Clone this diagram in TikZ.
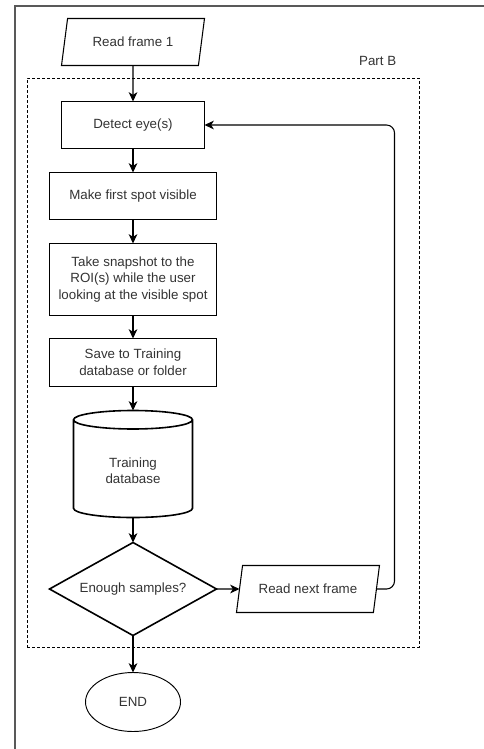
\documentclass[tikz,border=0pt]{standalone}
\usepackage{fontspec}
\setmainfont{Liberation Sans}
\usetikzlibrary{arrows.meta,positioning,shapes.geometric,calc}

\begin{document}
\begin{tikzpicture}[
  txt/.style={font=\fontsize{10}{12.5}\selectfont, text=black!80},
  box/.style={draw, txt, minimum width=125.25pt, minimum height=35.25pt, align=center, inner sep=1pt, outer sep=0pt, line width=0.8pt},
  io/.style={draw, txt, trapezium, trapezium left angle=64, trapezium right angle=116, trapezium stretches body, minimum width=107.25pt, minimum height=35.25pt, inner sep=1pt, outer sep=0pt, line width=0.8pt},
  store/.style={draw, txt, cylinder, shape border rotate=90, aspect=0.29, minimum width=89.25pt, minimum height=80.25pt, align=center, outer sep=0pt, line width=1.2pt},
  decide/.style={draw, txt, diamond, aspect=1.8, minimum width=125.25pt, minimum height=69.75pt, inner sep=0pt, outer sep=0pt, line width=1.2pt},
  term/.style={draw, txt, ellipse, minimum width=71.25pt, minimum height=44.25pt, outer sep=0pt, line width=0.7pt},
  partbox/.style={draw, dash pattern=on 2.25pt off 1.5pt, line width=0.7pt},
  arrow/.style={-{Stealth[length=7pt, width=6.5pt, inset=2pt]}, line width=0.8pt}
]
\clip (0,0) rectangle (363pt,-561.75pt);
% outer frame, only its left and top edges are in the picture
\draw[black!65, line width=0.9pt] (11.25pt,-570pt) |- (370pt,-4.5pt);

\node[partbox, minimum width=294pt, minimum height=426.75pt] (partB) at (167.25pt,-271.875pt) {};
\node[txt, inner sep=0pt, anchor=base east] (partBlbl) at ($(partB.north east)+(-17.25pt,9pt)$) {Part B};

\node[io] (rf1) at (99.75pt,-31.5pt) {Read frame 1};
\node[box, minimum width=107.25pt, below=27pt of rf1] (det) {Detect eye(s)};
\node[box, below=18pt of det] (make) {Make first spot visible};
\node[box, minimum height=54pt, below=18pt of make] (snap) {Take snapshot to the\\ROI(s) while the user\\looking at the visible spot};
\node[box, minimum height=36pt, below=17.25pt of snap] (save) {Save to Training\\database or folder};
\node[store, below=18pt of save] (db) {Training\\database};
\node[decide, below=18.75pt of db] (dia) {Enough samples?};
\node[term, below=27.75pt of dia] (fin) {END};
\node[io, right=17.25pt of dia] (rnf) {Read next frame};
\coordinate (loop) at ($(det.east)+(142.5pt,0)$);

\draw[arrow] (rf1) -- (det);
\draw[arrow] (det) -- (make);
\draw[arrow] (make) -- (snap);
\draw[arrow] (snap) -- (save);
\draw[arrow] (save) -- (db);
\draw[arrow] (db) -- (dia);
\draw[arrow] (dia) -- (fin);
\draw[arrow] (dia) -- (rnf);
\draw[arrow, rounded corners=6pt] (rnf.east) -| (loop) -- (det.east);
\end{tikzpicture}
\end{document}
